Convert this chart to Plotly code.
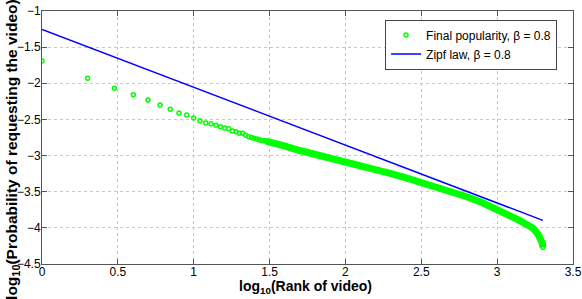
import numpy as np
import plotly.graph_objects as go

# ---- data ----
# individually visible points (rank 1..30)
sparse_rank = list(range(1, 31))
sparse_logprob = [-1.69, -1.93, -2.07, -2.16, -2.23, -2.30, -2.36, -2.41, -2.44, -2.48,
                  -2.52, -2.55, -2.56, -2.58, -2.60, -2.62, -2.63, -2.66, -2.67, -2.69,
                  -2.69, -2.72, -2.74, -2.75, -2.76, -2.77, -2.78, -2.79, -2.79, -2.80]
# dense tail (merged markers) read at selected ranks
dense_rank = [30, 32, 40, 50, 63, 79, 100, 126, 158, 200, 251, 316, 398, 501, 631, 794,
              1000, 1122, 1259, 1413, 1585, 1738, 1862, 1950, 1985, 2000]
dense_logprob = [-2.80, -2.82, -2.87, -2.93, -2.98, -3.03, -3.10, -3.15, -3.20, -3.25,
                 -3.31, -3.37, -3.43, -3.50, -3.57, -3.65, -3.74, -3.79, -3.84, -3.90,
                 -3.96, -4.01, -4.09, -4.16, -4.21, -4.27]
end_rank = [2000]
end_logprob = [-4.27]
# Zipf law reference line end points
zipf_log_rank = [0.0, 3.301]
zipf_logprob = [-1.255, -3.896]

x_ticks = [0, 0.5, 1, 1.5, 2, 2.5, 3, 3.5]
y_ticks = [-4.5, -4, -3.5, -3, -2.5, -2, -1.5, -1]

GREEN = "#00ff00"
BLUE = "#0000ff"
FONT = "Liberation Sans, Arial, Helvetica, sans-serif"

fig = go.Figure()
fig.add_trace(go.Scatter(
    x=np.log10(dense_rank), y=dense_logprob, mode="lines",
    line=dict(color=GREEN, width=7), showlegend=False, hoverinfo="skip"))
fig.add_trace(go.Scatter(
    x=np.log10(sparse_rank), y=sparse_logprob, mode="markers",
    marker=dict(symbol="circle-open", size=4, color=GREEN, line=dict(width=1.5, color=GREEN)),
    name="Final popularity, β = 0.8"))
fig.add_trace(go.Scatter(
    x=np.log10(end_rank), y=end_logprob, mode="markers",
    marker=dict(symbol="circle-open", size=4, color=GREEN, line=dict(width=1.5, color=GREEN)),
    showlegend=False))
fig.add_trace(go.Scatter(
    x=zipf_log_rank, y=zipf_logprob, mode="lines",
    line=dict(color=BLUE, width=1.5), name="Zipf law, β = 0.8"))

axis_common = dict(
    showline=True, linecolor="#555555", linewidth=1, mirror="ticks",
    ticks="inside", ticklen=5, tickcolor="#555555", tickwidth=1,
    showgrid=True, gridcolor="#c8c8c8", griddash="dot", gridwidth=1,
    zeroline=False, tickfont=dict(family=FONT, size=12, color="#000000"),
    ticklabeloverflow="allow",
)

fig.update_xaxes(range=[0, 3.5], tickvals=x_ticks, ticktext=[f"{v:g}" for v in x_ticks],
                 ticklabelstandoff=-3, **axis_common)
fig.update_yaxes(range=[-4.5, -1], tickvals=y_ticks,
                 ticktext=[f"\u2212{abs(v):g}" for v in y_ticks],
                 ticklabelstandoff=-2, **axis_common)

fig.add_annotation(text="<b>log<sub>10</sub>(Rank of video)</b>",
                   xref="paper", yref="paper", x=0.497, y=-0.092,
                   xanchor="center", yanchor="middle", showarrow=False,
                   font=dict(family=FONT, size=14, color="#000000"))
fig.add_annotation(text="<b>log<sub>10</sub>(Probability of requesting the video)</b>",
                   xref="paper", yref="paper", x=-0.0546, y=0.451, textangle=-90,
                   xanchor="center", yanchor="middle", showarrow=False,
                   font=dict(family=FONT, size=15.5, color="#000000"))

fig.update_layout(
    width=582, height=299,
    margin=dict(l=42, r=9, t=11, b=35, autoexpand=False),
    plot_bgcolor="#ffffff", paper_bgcolor="#ffffff",
    font=dict(family=FONT, size=12, color="#000000"),
    legend=dict(x=0.97, y=0.966, xanchor="right", yanchor="top",
                bgcolor="#ffffff", bordercolor="#444444", borderwidth=1,
                font=dict(family=FONT, size=12, color="#000000"),
                itemwidth=30, tracegroupgap=0),
)

fig.write_html("out.html", config={"displayModeBar": False},
               post_script="document.body.style.margin='0px';")
